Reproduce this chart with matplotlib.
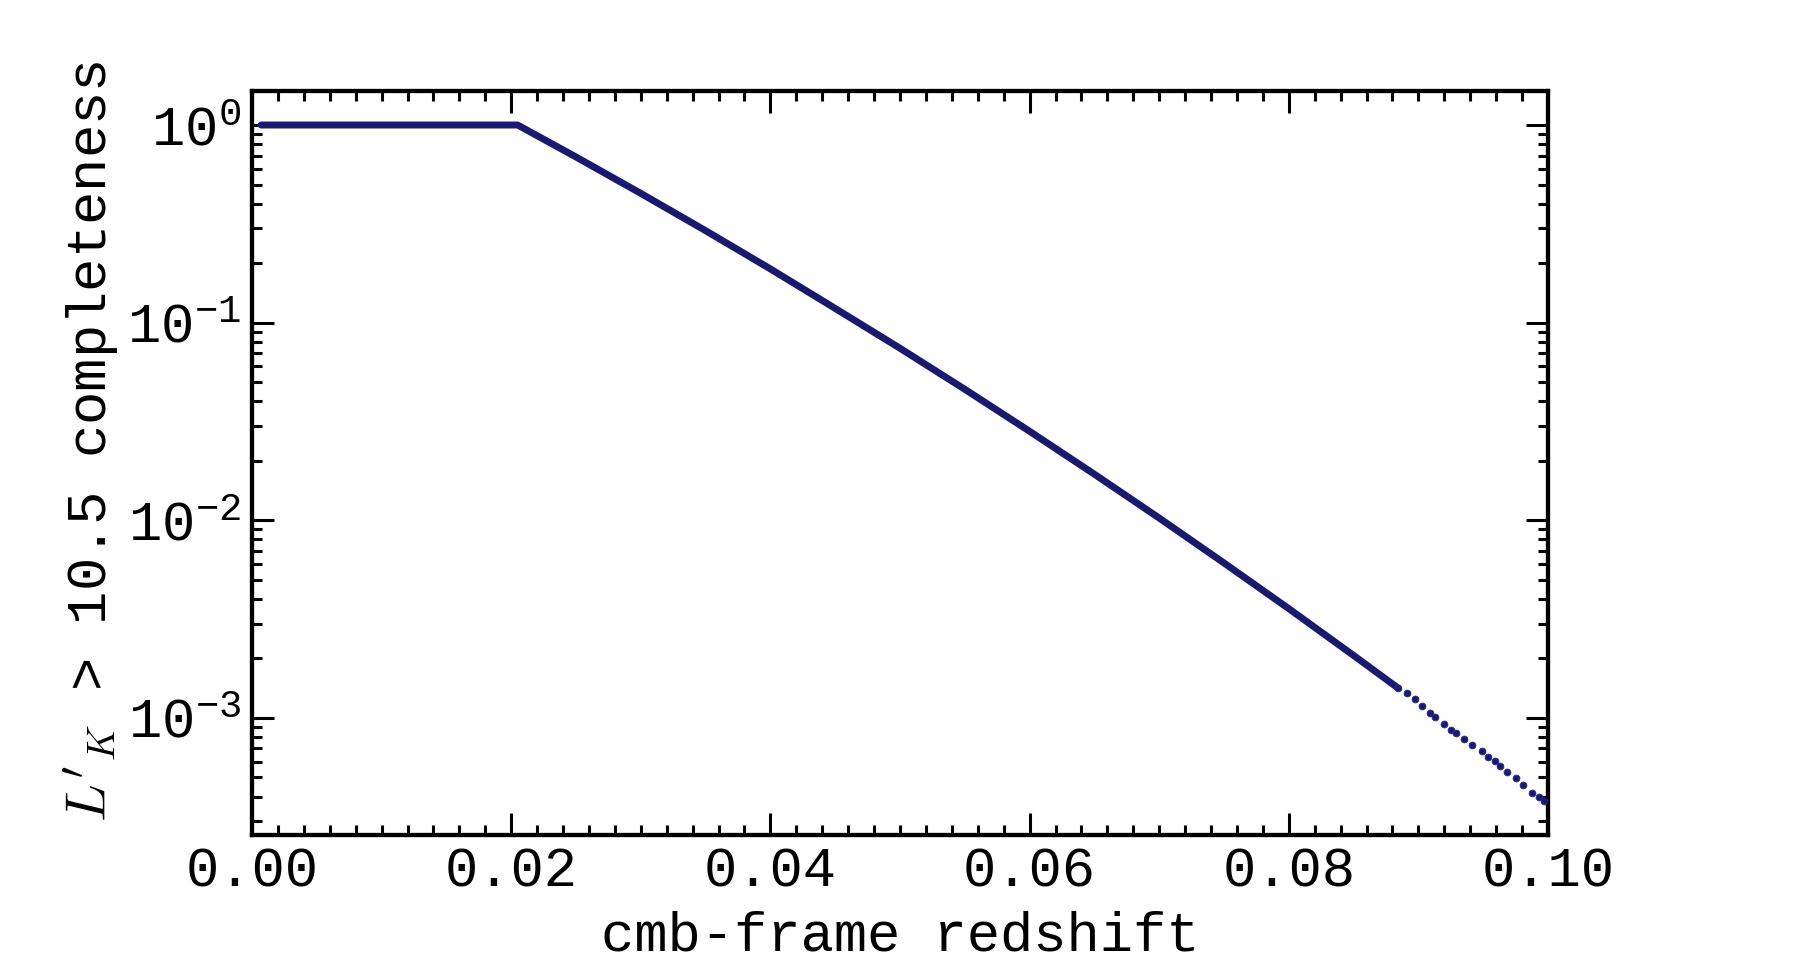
import numpy as np
import matplotlib
matplotlib.use("Agg")
import matplotlib.pyplot as plt
from matplotlib.ticker import MultipleLocator

plt.rcParams['font.family'] = ['Liberation Mono', 'DejaVu Sans Mono']
plt.rcParams['mathtext.fontset'] = 'cm'

# dense part of the completeness curve
z_dense = [0.0007, 0.0205, 0.025, 0.030, 0.035, 0.040, 0.045, 0.050, 0.055,
           0.060, 0.065, 0.070, 0.075, 0.080, 0.085, 0.0884]
c_dense = [1.0, 1.0, 0.689, 0.451, 0.292, 0.187, 0.118, 0.0742, 0.0460,
           0.0282, 0.0171, 0.01026, 0.00608, 0.00357, 0.00207, 0.00142]

# sparse galaxies at the high-redshift end
z_sparse = [0.0884, 0.0891, 0.0897, 0.0903, 0.0909, 0.0913, 0.0920, 0.0925,
            0.0929, 0.0935, 0.0941, 0.0949, 0.0954, 0.0959, 0.0963, 0.0968,
            0.0975, 0.0981, 0.0988, 0.0993, 0.0997]
c_sparse = [1.42e-3, 1.34e-3, 1.24e-3, 1.15e-3, 1.06e-3, 1.01e-3, 9.31e-4, 8.73e-4,
            8.39e-4, 7.85e-4, 7.31e-4, 6.78e-4, 6.31e-4, 6.03e-4, 5.69e-4, 5.32e-4,
            4.95e-4, 4.59e-4, 4.16e-4, 4.00e-4, 3.78e-4]

col = '#191970'

fig = plt.figure(figsize=(18, 9.6), dpi=100)
ax = fig.add_axes([0.14, 0.13, 0.72, 0.775])

ax.plot(z_dense, c_dense, color=col, lw=5, solid_capstyle='round', solid_joinstyle='round')
ax.scatter(z_sparse, c_sparse, s=24, color=col, edgecolors='#2a2a85', linewidths=0.6, zorder=3)

ax.set_yscale('log')
ax.set_xlim(0, 0.1)
ax.xaxis.set_major_locator(MultipleLocator(0.02))
ax.xaxis.set_minor_locator(MultipleLocator(0.002))
ax.xaxis.set_major_formatter(plt.FormatStrFormatter('%.2f'))

ax.tick_params(which='both', direction='in', top=True, right=True, width=2.2, labelsize=40, pad=8)
ax.tick_params(which='major', length=16)
ax.tick_params(which='minor', length=7.5)
for s in ax.spines.values():
    s.set_linewidth(3.1)

ax.set_xlabel('cmb-frame redshift', fontsize=40, labelpad=9)
ax.set_ylabel(r"$L'_K$ > 10.5 completeness", fontsize=40, y=0.53)

fig.savefig('out.png', dpi=100)
